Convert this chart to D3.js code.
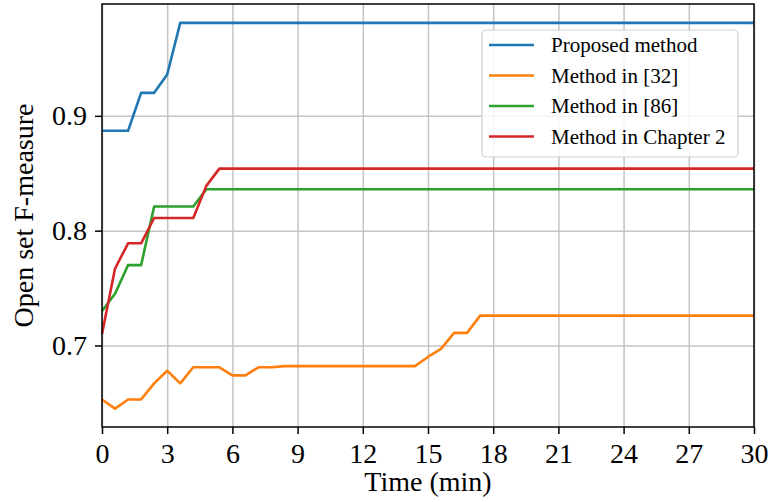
<!DOCTYPE html>
<html>
<head>
<meta charset="utf-8">
<script src="https://cdn.jsdelivr.net/npm/d3@7"></script>
<style>
  body { margin: 0; background: #fff; }
  svg { display: block; font-family: "Liberation Serif", "DejaVu Serif", serif; }
  .grid line { stroke: #c4c4c4; stroke-width: 1.5; }
  .grid path { display: none; }
  .axis path, .axis line { stroke: #000; stroke-width: 1.5; }
  .axis text { font-size: 28px; fill: #000; font-family: "Liberation Serif", "DejaVu Serif", serif; }
</style>
</head>
<body>
<svg id="chart" width="772" height="502"></svg>
<script>
// time in minutes (breakpoints of the curves)
var timeMin = [0, 0.6, 1.2, 1.8, 2.4, 3.0, 3.6, 4.2, 4.8, 5.4, 6.0, 6.6, 7.2, 7.8, 8.4, 9.0,
               14.4, 15.0, 15.6, 16.2, 16.8, 17.4, 30];

var proposed = [0.887, 0.887, 0.887, 0.920, 0.920, 0.936, 0.981, 0.981, 0.981, 0.981, 0.981, 0.981,
                0.981, 0.981, 0.981, 0.981, 0.981, 0.981, 0.981, 0.981, 0.981, 0.981, 0.981];
var method32 = [0.653, 0.645, 0.653, 0.653, 0.667, 0.678, 0.667, 0.681, 0.681, 0.681, 0.674, 0.674,
                0.681, 0.681, 0.682, 0.682, 0.682, 0.690, 0.697, 0.711, 0.711, 0.726, 0.726];
var method86 = [0.730, 0.745, 0.770, 0.770, 0.821, 0.821, 0.821, 0.821, 0.836, 0.836, 0.836, 0.836,
                0.836, 0.836, 0.836, 0.836, 0.836, 0.836, 0.836, 0.836, 0.836, 0.836, 0.836];
var chapter2 = [0.710, 0.767, 0.789, 0.789, 0.811, 0.811, 0.811, 0.811, 0.839, 0.854, 0.854, 0.854,
                0.854, 0.854, 0.854, 0.854, 0.854, 0.854, 0.854, 0.854, 0.854, 0.854, 0.854];

var seriesNames = ["Proposed method", "Method in [32]", "Method in [86]", "Method in Chapter 2"];
var seriesValues = [proposed, method32, method86, chapter2];
var colors = ["#1f77b4", "#ff7f0e", "#2ca02c", "#d62728"];

var xTicks = [0, 3, 6, 9, 12, 15, 18, 21, 24, 27, 30];
var yTicks = [0.7, 0.8, 0.9];

var svg = d3.select("#chart"),
    pLeft = 102, pRight = 754, pTop = 4, pBottom = 427;

var xScale = d3.scaleLinear().domain([0, 30]).range([pLeft, pRight]),
    yScale = d3.scaleLinear().domain([0.629, 0.9974]).range([pBottom, pTop]);

// grid
svg.append("g")
    .attr("class", "grid")
    .attr("transform", "translate(0," + pBottom + ")")
    .call(d3.axisBottom(xScale).tickValues(xTicks).tickSize(-(pBottom - pTop)).tickFormat(""));
svg.append("g")
    .attr("class", "grid")
    .attr("transform", "translate(" + pLeft + ",0)")
    .call(d3.axisLeft(yScale).tickValues(yTicks).tickSize(-(pRight - pLeft)).tickFormat(""));

// lines
var line = d3.line()
    .x(function (d) { return xScale(d[0]); })
    .y(function (d) { return yScale(d[1]); });

seriesValues.forEach(function (vals, i) {
    svg.append("path")
        .datum(timeMin.map(function (t, j) { return [t, vals[j]]; }))
        .attr("fill", "none")
        .attr("stroke", colors[i])
        .attr("stroke-width", 2.6)
        .attr("stroke-linejoin", "round")
        .attr("d", line);
});

// frame
svg.append("rect")
    .attr("x", pLeft).attr("y", pTop)
    .attr("width", pRight - pLeft).attr("height", pBottom - pTop)
    .attr("fill", "none").attr("stroke", "#000").attr("stroke-width", 1.5);

// axes
svg.append("g")
    .attr("class", "axis")
    .attr("transform", "translate(0," + pBottom + ")")
    .call(d3.axisBottom(xScale).tickValues(xTicks).tickSize(7).tickPadding(9).tickSizeOuter(0))
    .select(".domain").remove();
svg.append("g")
    .attr("class", "axis")
    .attr("transform", "translate(" + pLeft + ",0)")
    .call(d3.axisLeft(yScale).tickValues(yTicks).tickSize(7).tickPadding(8).tickSizeOuter(0)
        .tickFormat(d3.format(".1f")))
    .select(".domain").remove();

// axis labels
svg.append("text")
    .attr("x", (pLeft + pRight) / 2)
    .attr("y", 491)
    .attr("text-anchor", "middle")
    .style("font-size", "28px")
    .text("Time (min)");

svg.append("text")
    .attr("transform", "translate(33," + (pTop + pBottom) / 2 + ") rotate(-90)")
    .attr("text-anchor", "middle")
    .style("font-size", "28px")
    .text("Open set F-measure");

// legend
var legend = svg.append("g").attr("transform", "translate(482,30)");
legend.append("rect")
    .attr("width", 256).attr("height", 127)
    .attr("rx", 4).attr("ry", 4)
    .attr("fill", "#fff").attr("fill-opacity", 0.85)
    .attr("stroke", "#d0d0d0").attr("stroke-width", 1.2);

var item = legend.selectAll(".item")
    .data(seriesNames)
    .enter().append("g")
    .attr("class", "item")
    .attr("transform", function (d, i) { return "translate(0," + (15 + i * 30.5) + ")"; });

item.append("line")
    .attr("x1", 7).attr("x2", 52)
    .attr("stroke", function (d, i) { return colors[i]; })
    .attr("stroke-width", 2.6);

item.append("text")
    .attr("x", 69)
    .attr("dy", "0.35em")
    .style("font-size", "21px")
    .text(function (d) { return d; });
</script>
</body>
</html>
